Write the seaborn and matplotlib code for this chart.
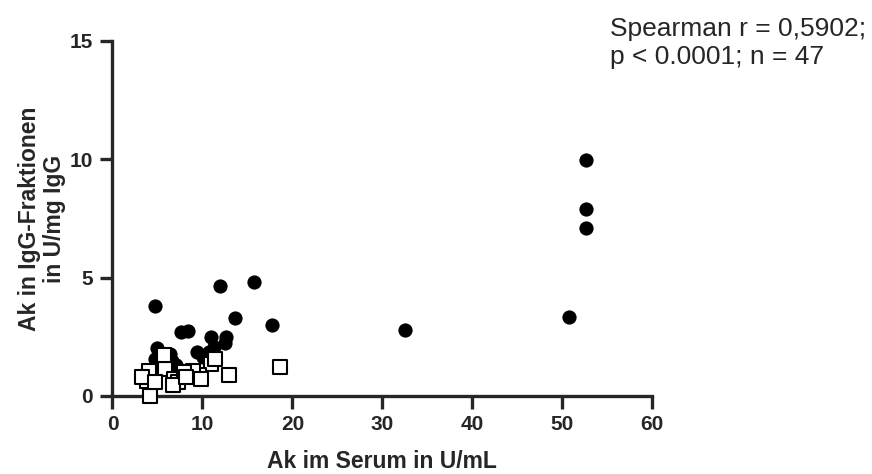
import numpy as np
import pandas as pd
import matplotlib
matplotlib.use('Agg')
import matplotlib.pyplot as plt
import seaborn as sns

# filled circles
circle_x = [52.6, 52.6, 52.6, 50.7, 32.5, 17.7, 15.7, 12.0, 13.6, 4.7,
            8.4, 7.6, 10.9, 12.6, 12.5, 11.3, 10.7, 9.4, 10.1, 4.9,
            4.7, 6.4, 6.6, 7.1, 7.7, 5.5, 6.2, 7.2]
circle_y = [9.95, 7.9, 7.1, 3.35, 2.8, 2.98, 4.83, 4.63, 3.28, 3.8,
            2.73, 2.69, 2.48, 2.51, 2.24, 2.05, 1.87, 1.84, 1.64, 2.01,
            1.57, 1.77, 1.49, 1.29, 1.0, 1.62, 1.21, 0.86]

# open squares
square_x = [18.6, 12.9, 11.0, 9.6, 9.0, 3.8, 4.1, 4.2, 5.85, 6.8,
            7.3, 7.9, 3.25, 5.7, 6.7, 9.8, 8.2, 4.7, 11.4]
square_y = [1.24, 0.89, 1.36, 0.89, 1.07, 0.65, 1.07, 0.01, 1.14, 0.72,
            0.58, 1.0, 0.79, 1.72, 0.46, 0.71, 0.81, 0.61, 1.57]

x_ticks = [0, 10, 20, 30, 40, 50, 60]
y_ticks = [0, 5, 10, 15]

df_c = pd.DataFrame({'x': circle_x, 'y': circle_y})
df_s = pd.DataFrame({'x': square_x, 'y': square_y})

sns.set_style('ticks')
plt.rcParams['font.family'] = ['Liberation Sans', 'DejaVu Sans']

fig = plt.figure(figsize=(8.72, 4.74), dpi=100)
ax = fig.add_axes([0.129, 0.1646, 0.619, 0.749])

sns.scatterplot(data=df_c, x='x', y='y', ax=ax, marker='o', s=105,
                color='black', edgecolor='black', linewidth=0, clip_on=False, zorder=3)
sns.scatterplot(data=df_s, x='x', y='y', ax=ax, marker='s', s=92,
                facecolor='white', edgecolor='black', linewidth=1.5, clip_on=False, zorder=4)

ax.set_xlim(0, 60)
ax.set_ylim(0, 15)
ax.set_xticks(x_ticks)
ax.set_yticks(y_ticks)
for s in ['top', 'right']:
    ax.spines[s].set_visible(False)
for s in ['left', 'bottom']:
    ax.spines[s].set_linewidth(2.4)
ax.tick_params(width=2.4, length=9, labelsize=15, pad=5)
for lab in ax.get_xticklabels() + ax.get_yticklabels():
    lab.set_fontweight('bold')

ax.set_xlabel('Ak im Serum in U/mL', fontsize=16.5, fontweight='bold', labelpad=11)
ax.set_ylabel('Ak in IgG-Fraktionen\nin U/mg IgG', fontsize=16.5, fontweight='bold',
              labelpad=3, linespacing=1.1)

fig.text(0.993, 0.91, 'Spearman r = 0,5902;\np < 0.0001; n = 47', fontsize=19,
         ha='right', va='center', multialignment='left', linespacing=1.2)

fig.savefig('out.png', dpi=100)
